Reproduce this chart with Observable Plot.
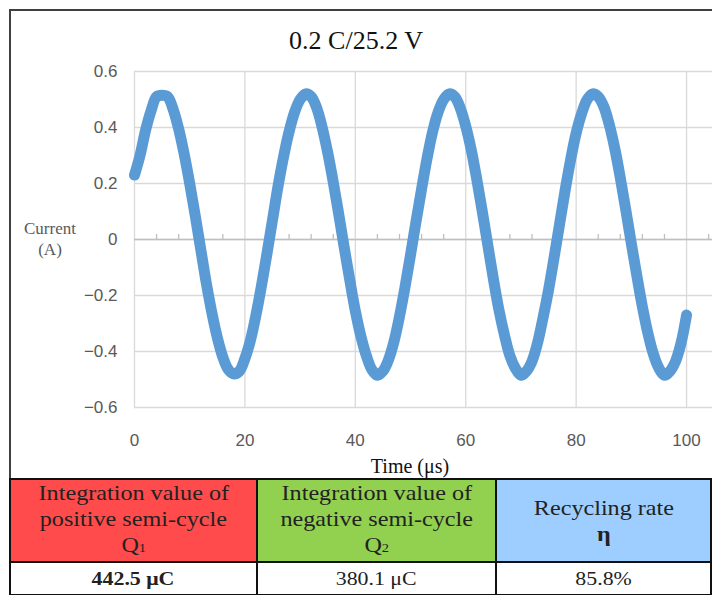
<!DOCTYPE html>
<html>
<head>
<meta charset="utf-8">
<script src="https://cdn.jsdelivr.net/npm/d3@7"></script>
<script src="https://cdn.jsdelivr.net/npm/@observablehq/plot@0.6"></script>
<style>
  html, body { margin: 0; padding: 0; background: #fff; }
  #wrap { position: relative; width: 712px; height: 595px; overflow: hidden; background:#fff; }
  #frame { position: absolute; left: 9px; top: 9px; width: 720px; height: 470px; border-left: 2px solid #404040; border-top: 2px solid #404040; box-sizing: border-box; }
  #title { position: absolute; left: 0; width: 712px; top: 26px; text-align: center; font-family: "Liberation Serif", "Times New Roman", serif; font-size: 26px; color: #111; }
  #ylab { position: absolute; left: 10px; width: 80px; top: 218px; text-align: center; font-family: "Liberation Serif", "Times New Roman", serif; font-size: 17px; line-height: 21px; color: #595959; }
  #xlab { position: absolute; left: 310px; width: 200px; top: 455px; text-align: center; font-family: "Liberation Serif", "Times New Roman", serif; font-size: 20px; color: #111; }
  #chart { position: absolute; left: 0; top: 50px; }
  table { position: absolute; left: 9px; top: 478px; border-collapse: collapse; font-family: "Liberation Serif", "Times New Roman", serif; color: #222; }
  td { border: 2px solid #111; text-align: center; padding: 0; overflow: hidden; }
  td .s { display: inline-block; transform: scaleX(1.15); transform-origin: center; white-space: nowrap; }
  tr.h td { height: 79px; font-size: 21px; line-height: 26px; }
  tr.v td { height: 31px; font-size: 19px; }
</style>
</head>
<body>
<div id="wrap">
  <div id="frame"></div>
  <div id="title"></div>
  <div id="ylab"></div>
  <div id="chart"></div>
  <div id="xlab"></div>
  <table id="tbl"></table>
</div>
<script>
const chartTitle = "0.2 C/25.2 V";
const yAxisLabel = ["Current", "(A)"];
const xAxisLabel = "Time (μs)";

const timeUs = [0,1,2,3,4,5,6,7,8,9,10,11,12,13,14,15,16,17,18,19,20,21,22,23,24,25,26,27,28,29,30,31,32,33,34,35,36,37,38,39,40,41,42,43,44,45,46,47,48,49,50,51,52,53,54,55,56,57,58,59,60,61,62,63,64,65,66,67,68,69,70,71,72,73,74,75,76,77,78,79,80,81,82,83,84,85,86,87,88,89,90,91,92,93,94,95,96,97,98,99,100];
const currentA = [0.23,0.30,0.39,0.46,0.51,0.515,0.51,0.465,0.395,0.305,0.20,0.085,-0.035,-0.155,-0.26,-0.35,-0.42,-0.465,-0.48,-0.47,-0.425,-0.36,-0.27,-0.165,-0.05,0.07,0.19,0.295,0.385,0.455,0.50,0.52,0.51,0.47,0.40,0.31,0.205,0.09,-0.03,-0.145,-0.255,-0.345,-0.415,-0.465,-0.485,-0.47,-0.43,-0.365,-0.275,-0.17,-0.055,0.065,0.18,0.29,0.385,0.455,0.50,0.52,0.51,0.47,0.405,0.32,0.215,0.10,-0.02,-0.14,-0.25,-0.34,-0.415,-0.46,-0.485,-0.47,-0.435,-0.37,-0.28,-0.18,-0.065,0.055,0.175,0.285,0.38,0.45,0.50,0.52,0.51,0.475,0.41,0.325,0.22,0.105,-0.015,-0.13,-0.24,-0.335,-0.41,-0.46,-0.485,-0.47,-0.435,-0.37,-0.27];

const xTicks = [0,20,40,60,80,100];
const yTicks = [-0.6,-0.4,-0.2,0,0.2,0.4,0.6];
const minorXTicks = [4,8,12,16,24,28,32,36,44,48,52,56,64,68,72,76,84,88,92,96,104];

const tableHeaders = [
  {lines: ["Integration value of", "positive semi-cycle", "Q<sub style='font-size:0.6em;vertical-align:baseline'>1</sub>"], color: "#FF4B4B"},
  {lines: ["Integration value of", "negative semi-cycle", "Q<sub style='font-size:0.6em;vertical-align:baseline'>2</sub>"], color: "#92D050"},
  {lines: ["Recycling rate", "<b>η</b>"], color: "#9DCEFF"}
];
const tableValues = ["442.5 μC", "380.1 μC", "85.8%"];
const colWidths = [248, 241, 216];

document.getElementById("title").textContent = chartTitle;
document.getElementById("ylab").innerHTML = yAxisLabel.join("<br>");
document.getElementById("xlab").textContent = xAxisLabel;

const data = timeUs.map((t, i) => ({t, v: currentA[i]}));
const fmt = d => d === 0 ? "0" : (d < 0 ? "\u2212" + Math.abs(d).toFixed(1) : d.toFixed(1));

const plot = Plot.plot({
  width: 712,
  height: 420,
  marginLeft: 134,
  marginRight: 0,
  marginTop: 21,
  marginBottom: 63,
  style: {fontFamily: "'Liberation Sans Narrow', 'Arial Narrow', sans-serif", fontSize: "17px", overflow: "visible", background: "transparent"},
  x: {domain: [0, 104.7]},
  y: {domain: [-0.6, 0.6]},
  marks: [
    Plot.gridX(xTicks, {stroke: "#d9d9d9", strokeOpacity: 1, strokeWidth: 1.3}),
    Plot.gridY(yTicks, {stroke: "#d9d9d9", strokeOpacity: 1, strokeWidth: 1.3}),
    Plot.ruleY([0], {stroke: "#bfbfbf", strokeWidth: 1.3}),
    Plot.ruleX(minorXTicks, {x: d => d, y1: 0, y2: 0.018, stroke: "#bfbfbf", strokeWidth: 1.3}),
    Plot.line(data, {x: "t", y: "v", stroke: "#5B9BD5", strokeWidth: 11, strokeLinecap: "round", strokeLinejoin: "round", curve: "catmull-rom"}),
    Plot.axisY(yTicks, {tickSize: 0, tickPadding: 17, tickFormat: fmt, color: "#595959", label: null}),
    Plot.axisX(xTicks, {tickSize: 0, tickPadding: 26, tickFormat: d => String(d), color: "#595959", label: null})
  ]
});
document.getElementById("chart").appendChild(plot);

const tbl = document.getElementById("tbl");
const trH = document.createElement("tr"); trH.className = "h";
tableHeaders.forEach((h, i) => {
  const td = document.createElement("td");
  td.style.background = h.color;
  td.style.width = (colWidths[i] - 2) + "px";
  td.innerHTML = h.lines.map(l => `<span class="s">${l}</span>`).join("<br>");
  trH.appendChild(td);
});
tbl.appendChild(trH);
const trV = document.createElement("tr"); trV.className = "v";
tableValues.forEach((v, i) => {
  const td = document.createElement("td");
  td.innerHTML = `<span class="s">${v}</span>`;
  if (i === 0) td.style.fontWeight = "bold";
  trV.appendChild(td);
});
tbl.appendChild(trV);
</script>
</body>
</html>
